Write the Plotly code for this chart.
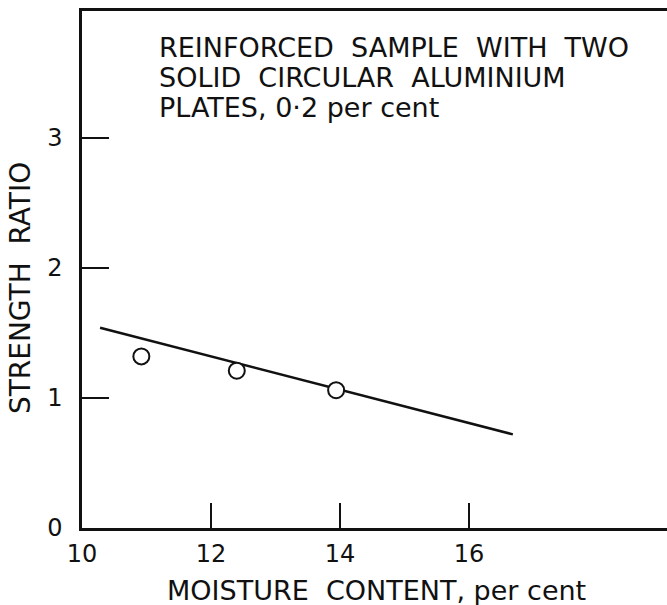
import plotly.graph_objects as go

# Data
moisture_points = [10.92, 12.40, 13.94]
strength_points = [1.32, 1.21, 1.06]
fit_x = [10.28, 16.68]
fit_y = [1.54, 0.72]

x_ticks = [10, 12, 14, 16]
x_tick_labels = ["10", "12", "14", "16"]
y_ticks = [0, 1, 2, 3]
y_tick_labels = ["0", "1", "2", "3"]

note_lines = [
    "REINFORCED  SAMPLE  WITH  TWO",
    "SOLID  CIRCULAR  ALUMINIUM",
    "PLATES, 0·2 per cent",
]
x_title = "MOISTURE  CONTENT, per cent"
y_title = "STRENGTH  RATIO"

FONT = "DejaVu Sans"
INK = "#111111"

fig = go.Figure()
fig.add_trace(go.Scatter(
    x=fit_x, y=fit_y, mode="lines",
    line=dict(color=INK, width=2.5), showlegend=False, hoverinfo="skip",
))
fig.add_trace(go.Scatter(
    x=moisture_points, y=strength_points, mode="markers",
    marker=dict(symbol="circle", size=16, color="white",
                line=dict(color=INK, width=2)),
    showlegend=False,
))

fig.update_layout(
    width=667, height=605,
    margin=dict(l=82, r=0, t=11, b=77),
    paper_bgcolor="white", plot_bgcolor="white",
    font=dict(family=FONT, size=24, color=INK),
)
fig.update_xaxes(
    range=[10, 19.07], tickmode="array", tickvals=x_ticks, ticktext=x_tick_labels,
    ticks="inside", ticklen=25, tickwidth=2, tickcolor=INK,
    showline=True, linecolor=INK, linewidth=2.5, mirror=True,
    showgrid=False, zeroline=False, ticklabelstandoff=2,
    tickfont=dict(family=FONT, size=24, color=INK),
)
fig.update_yaxes(
    range=[0, 3.977], tickmode="array", tickvals=y_ticks, ticktext=y_tick_labels,
    ticks="inside", ticklen=27, tickwidth=2, tickcolor=INK,
    showline=True, linecolor=INK, linewidth=2.5, mirror=False,
    showgrid=False, zeroline=False, ticklabelstandoff=12,
    tickfont=dict(family=FONT, size=24, color=INK),
)

line_y = [0.930, 0.872, 0.814]
for txt, yy in zip(note_lines, line_y):
    fig.add_annotation(
        text=txt, xref="paper", yref="paper", x=0.128, y=yy,
        xanchor="left", yanchor="middle", showarrow=False,
        font=dict(family=FONT, size=27, color=INK),
    )

fig.add_annotation(
    text=x_title, xref="paper", yref="paper", x=0.5026, y=-0.12,
    xanchor="center", yanchor="middle", showarrow=False,
    font=dict(family=FONT, size=27, color=INK),
)
fig.add_annotation(
    text=y_title, xref="paper", yref="paper", x=-0.106, y=0.464,
    xanchor="center", yanchor="middle", showarrow=False, textangle=-90,
    font=dict(family=FONT, size=28, color=INK),
)

fig.write_html(
    "out.html",
    config={"displayModeBar": False},
    post_script="document.body.style.margin='0';document.body.style.overflow='hidden';",
)
